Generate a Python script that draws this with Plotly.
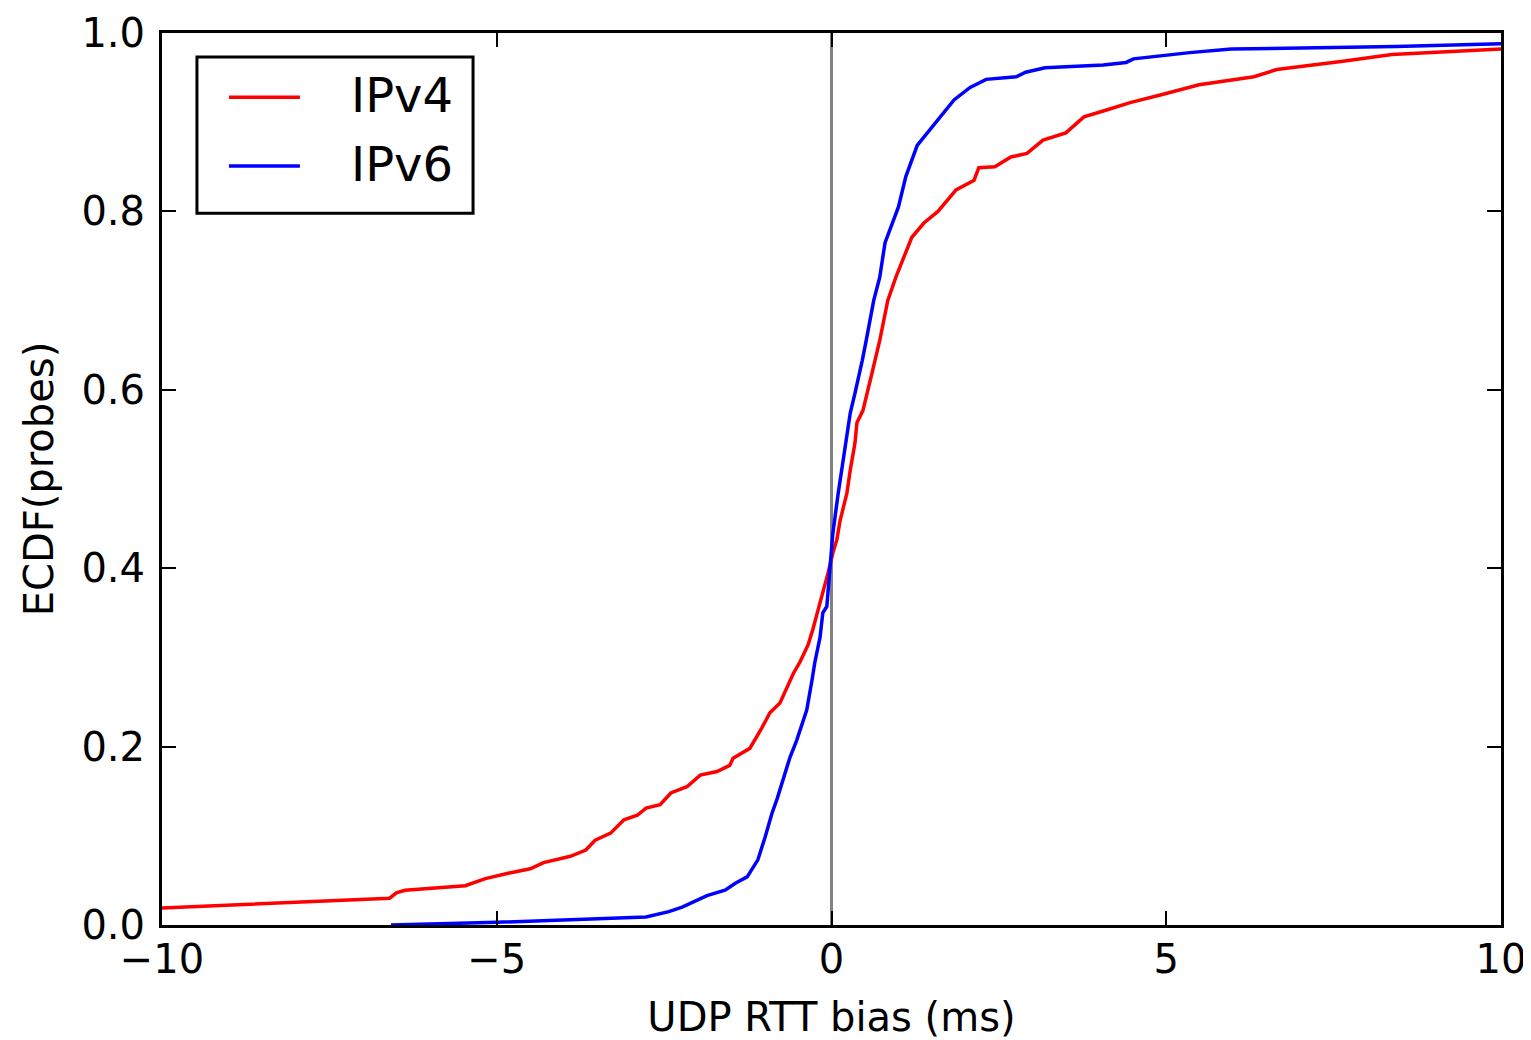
import plotly.graph_objects as go

# ---- data ----
series_names = ["IPv4", "IPv6"]
series_colors = ["#ff0000", "#0000ff"]

ipv4_x = [-10, -6.6, -6.5, -6.37, -5.47, -5.17, -4.83, -4.5, -4.3, -3.9, -3.67, -3.53, -3.3, -3.1,
          -2.9, -2.77, -2.56, -2.4, -2.16, -1.96, -1.71, -1.52, -1.47, -1.22, -1.04, -0.92, -0.77,
          -0.69, -0.57, -0.47, -0.35, -0.28, -0.2, -0.13, -0.05, 0.02, 0.08, 0.13, 0.23, 0.28, 0.35,
          0.38, 0.47, 0.58, 0.72, 0.84, 0.96, 1.2, 1.38, 1.59, 1.86, 2.13, 2.2, 2.44, 2.68, 2.92,
          3.16, 3.5, 3.77, 4.12, 4.46, 4.94, 5.49, 6.31, 6.65, 7.61, 8.37, 10]
ipv4_y = [0.019, 0.030, 0.036, 0.039, 0.044, 0.052, 0.058, 0.063, 0.070, 0.077, 0.084, 0.095, 0.103,
          0.118, 0.123, 0.131, 0.135, 0.148, 0.155, 0.168, 0.172, 0.179, 0.187, 0.198, 0.221, 0.238,
          0.249, 0.263, 0.282, 0.295, 0.314, 0.331, 0.353, 0.372, 0.395, 0.417, 0.432, 0.454, 0.484,
          0.510, 0.540, 0.563, 0.577, 0.611, 0.655, 0.700, 0.726, 0.771, 0.787, 0.800, 0.824, 0.835,
          0.849, 0.850, 0.861, 0.865, 0.880, 0.888, 0.906, 0.914, 0.922, 0.931, 0.942, 0.951, 0.959,
          0.968, 0.976, 0.982]

ipv6_x = [-6.58, -5, -2.77, -2.43, -2.23, -1.86, -1.59, -1.43, -1.26, -1.1, -0.99, -0.89, -0.81,
          -0.72, -0.62, -0.52, -0.43, -0.37, -0.29, -0.25, -0.17, -0.13, -0.07, -0.03, 0.02, 0.1,
          0.17, 0.23, 0.28, 0.35, 0.4, 0.46, 0.52, 0.63, 0.72, 0.80, 1.0, 1.11, 1.28, 1.49, 1.65,
          1.83, 2.07, 2.31, 2.76, 2.9, 3.19, 4.06, 4.4, 4.51, 5.35, 5.97, 8.43, 10]
ipv6_y = [0.0, 0.003, 0.009, 0.015, 0.020, 0.033, 0.039, 0.047, 0.054, 0.073, 0.099, 0.125, 0.142,
          0.165, 0.188, 0.207, 0.226, 0.241, 0.275, 0.294, 0.323, 0.350, 0.357, 0.398, 0.439, 0.484,
          0.518, 0.546, 0.574, 0.596, 0.611, 0.633, 0.656, 0.700, 0.726, 0.765, 0.805, 0.839, 0.874,
          0.893, 0.908, 0.925, 0.939, 0.948, 0.951, 0.956, 0.961, 0.964, 0.967, 0.971, 0.978, 0.982,
          0.985, 0.988]

x_ticks = [-10, -5, 0, 5, 10]
x_ticktext = ["\u221210", "\u22125", "0", "5", "10"]
y_ticks = [0.0, 0.2, 0.4, 0.6, 0.8, 1.0]
y_ticktext = ["0.0", "0.2", "0.4", "0.6", "0.8", "1.0"]

FONT = "DejaVu Sans"

fig = go.Figure()
for name, color, xs, ys in [(series_names[0], series_colors[0], ipv4_x, ipv4_y),
                            (series_names[1], series_colors[1], ipv6_x, ipv6_y)]:
    fig.add_trace(go.Scatter(x=xs, y=ys, mode="lines", name=name,
                             line=dict(color=color, width=3.5), showlegend=False))

# vertical reference line at zero
fig.add_shape(type="line", xref="x", yref="y", x0=0, x1=0, y0=0, y1=1,
              line=dict(color="#808080", width=3), layer="below")

# legend box (drawn manually to mirror matplotlib style)
fig.add_shape(type="rect", xref="paper", yref="paper", x0=0.0261, x1=0.2323, y0=0.798, y1=0.973,
              line=dict(color="black", width=3), fillcolor="white")
legend_rows_y = [0.928, 0.851]
for name, color, ly in zip(series_names, series_colors, legend_rows_y):
    fig.add_shape(type="line", xref="paper", yref="paper", x0=0.050, x1=0.103, y0=ly, y1=ly,
                  line=dict(color=color, width=3.5))
    fig.add_annotation(xref="paper", yref="paper", x=0.140, y=ly, text=name, showarrow=False,
                       xanchor="left", yanchor="middle", yshift=2,
                       font=dict(family=FONT, size=48, color="black"))

axis_common = dict(showgrid=False, zeroline=False, showline=True, linecolor="black", linewidth=3,
                   mirror="ticks", ticks="inside", ticklen=14, tickwidth=2, tickcolor="black",
                   automargin=False,
                   tickfont=dict(family=FONT, size=40, color="black"))

fig.update_xaxes(range=[-10, 10], tickvals=x_ticks, ticktext=x_ticktext,
                 title=dict(text="UDP RTT bias (ms)", font=dict(family=FONT, size=40, color="black"),
                            standoff=24),
                 ticklabelstandoff=-3, **axis_common)
fig.update_yaxes(range=[0, 1], tickvals=y_ticks, ticktext=y_ticktext,
                 title=dict(text="ECDF(probes)", font=dict(family=FONT, size=40, color="black"),
                            standoff=16),
                 ticklabelstandoff=6, **axis_common)

# page body has an 8px margin: size the figure so the plot lands where the reference has it
fig.update_layout(width=1523, height=1032, margin=dict(l=154, r=30, t=25, b=115),
                  plot_bgcolor="white", paper_bgcolor="white", showlegend=False,
                  font=dict(family=FONT, color="black"))

fig.write_html("out.html")
